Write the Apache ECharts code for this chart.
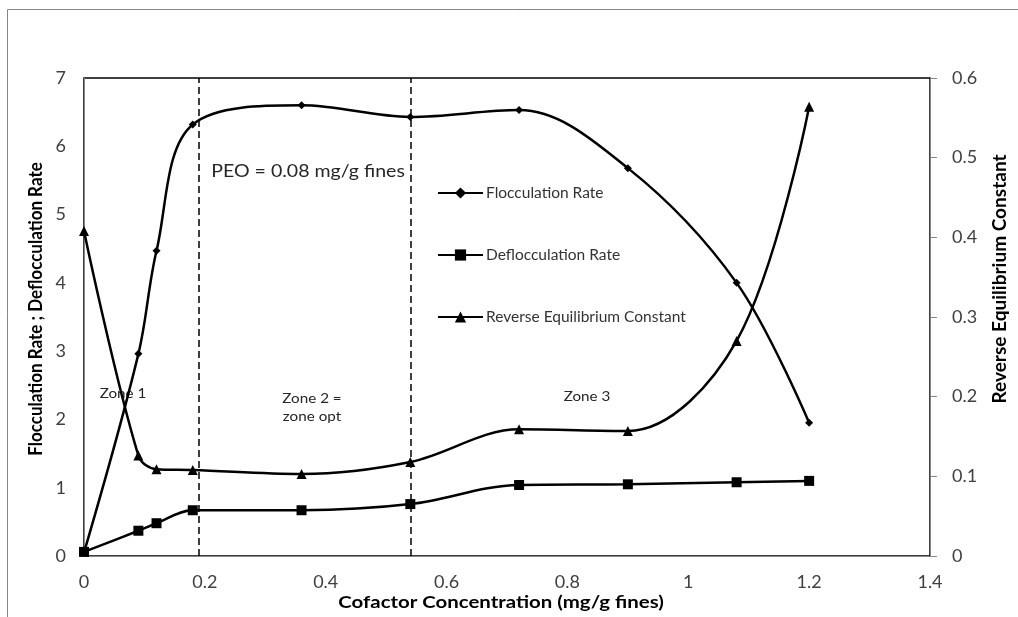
<!DOCTYPE html>
<html>
<head>
<meta charset="utf-8">
<script src="https://cdn.jsdelivr.net/npm/echarts@6/dist/echarts.min.js"></script>
<style>html,body{margin:0;padding:0;background:#fff}#c{width:1018px;height:617px}</style>
</head>
<body>
<div id="c"></div>
<script>
const concentration = [0, 0.09, 0.12, 0.18, 0.36, 0.54, 0.72, 0.9, 1.08, 1.2];
const flocculationRate = [0.05, 2.96, 4.47, 6.32, 6.60, 6.43, 6.53, 5.68, 4.0, 1.95];
const deflocculationRate = [0.06, 0.37, 0.48, 0.67, 0.67, 0.76, 1.04, 1.05, 1.08, 1.10];
const reverseEqConstant = [0.408, 0.126, 0.109, 0.108, 0.103, 0.118, 0.159, 0.157, 0.27, 0.564];
const zoneBoundaries = [0.189, 0.543];
const leftTicks = [0, 7, 1];
const rightTicks = [0, 0.6, 0.1];
const xTicks = [0, 1.4, 0.2];
const seriesNames = ['Flocculation Rate', 'Deflocculation Rate', 'Reverse Equilibrium Constant'];
const xTitle = 'Cofactor Concentration (mg/g fines)';
const leftTitle = 'Flocculation Rate ; Deflocculation Rate';
const rightTitle = 'Reverse Equilibrium Constant';
const peoNote = 'PEO = 0.08 mg/g fines';
const zoneLabels = ['Zone 1', 'Zone 2 =\nzone opt', 'Zone 3'];

const FONT = 'Lato, "Open Sans", sans-serif';
const pair = (xs, ys) => xs.map((x, i) => [x, ys[i]]);

const chart = echarts.init(document.getElementById('c'), null, {renderer: 'canvas'});
const lineStyle = {color: '#000', width: 2.5};
const note = (text, x, y, size, sx, extra) => Object.assign({
  type: 'text', x: x, y: y, scaleX: sx, scaleY: 1, silent: true,
  style: {text: text, font: size + 'px ' + FONT, fill: '#262626', align: 'center', verticalAlign: 'middle'}
}, extra || {});

chart.setOption({
  animation: false,
  backgroundColor: '#fff',
  textStyle: {fontFamily: FONT},
  grid: {left: 84, right: 88, top: 78, bottom: 61, show: true, borderColor: '#000', borderWidth: 1.5, backgroundColor: 'transparent'},
  legend: {
    orient: 'vertical', left: 437, top: 185, padding: 0, itemGap: 46, itemWidth: 45, itemHeight: 14,
    data: seriesNames,
    textStyle: {fontFamily: FONT, fontSize: 15.5, color: '#333', padding: [0, 0, 0, -2]}
  },
  xAxis: {
    type: 'value', min: xTicks[0], max: xTicks[1], interval: xTicks[2],
    axisLine: {lineStyle: {color: '#868686', width: 1}},
    axisTick: {show: false},
    splitLine: {show: false},
    axisLabel: {fontSize: 18, color: '#404040', margin: 17, fontFamily: FONT}
  },
  yAxis: [{
    type: 'value', min: leftTicks[0], max: leftTicks[1], interval: leftTicks[2],
    axisLine: {show: true, lineStyle: {color: '#868686', width: 1}},
    axisTick: {show: false},
    splitLine: {show: false},
    axisLabel: {fontSize: 18, color: '#404040', margin: 18, fontFamily: FONT}
  }, {
    type: 'value', position: 'right', min: rightTicks[0], max: rightTicks[1], interval: rightTicks[2],
    axisLine: {show: true, lineStyle: {color: '#868686', width: 1}},
    axisTick: {show: true, inside: false, length: 7, lineStyle: {color: '#868686'}},
    splitLine: {show: false},
    axisLabel: {fontSize: 18, color: '#404040', margin: 22, fontFamily: FONT}
  }],
  series: [{
    name: seriesNames[0], type: 'line', yAxisIndex: 0, smooth: 0.35,
    data: pair(concentration, flocculationRate),
    symbol: 'diamond', symbolSize: 8, itemStyle: {color: '#000'}, lineStyle: lineStyle,
    markLine: {
      silent: true, symbol: ['none', 'none'], label: {show: false},
      lineStyle: {color: '#000', type: [7, 4], width: 1.5},
      data: zoneBoundaries.map(v => ({xAxis: v}))
    }
  }, {
    name: seriesNames[1], type: 'line', yAxisIndex: 0, smooth: 0.35,
    data: pair(concentration, deflocculationRate),
    symbol: 'rect', symbolSize: 10, itemStyle: {color: '#000'}, lineStyle: lineStyle
  }, {
    name: seriesNames[2], type: 'line', yAxisIndex: 1, smooth: 0.35,
    data: pair(concentration, reverseEqConstant),
    symbol: 'triangle', symbolSize: 10, itemStyle: {color: '#000'}, lineStyle: lineStyle
  }],
  graphic: [
    {type: 'rect', shape: {x: 7.5, y: 9.5, width: 1100, height: 700}, style: {fill: 'none', stroke: '#868686', lineWidth: 1}, silent: true, z: -1},
    {type: 'text', x: 501, y: 603, scaleX: 1.2, silent: true,
      style: {text: xTitle, font: 'bold 17px ' + FONT, fill: '#000', align: 'center', verticalAlign: 'middle'}},
    {type: 'text', x: 36, y: 309, rotation: Math.PI / 2, scaleX: 1.0, scaleY: 1.15, silent: true,
      style: {text: leftTitle, font: 'bold 17px ' + FONT, fill: '#000', align: 'center', verticalAlign: 'middle'}},
    {type: 'text', x: 1000, y: 279, rotation: Math.PI / 2, scaleX: 1.12, scaleY: 1.15, silent: true,
      style: {text: rightTitle, font: 'bold 17px ' + FONT, fill: '#000', align: 'center', verticalAlign: 'middle'}},
    note(peoNote, 308, 172, 17, 1.15),
    note(zoneLabels[0], 123, 394, 13, 1.17),
    note(zoneLabels[1], 312, 408, 13, 1.17, {style: {text: zoneLabels[1], font: '13px ' + FONT, fill: '#262626', align: 'center', verticalAlign: 'middle', lineHeight: 18}}),
    note(zoneLabels[2], 587, 397, 13, 1.17)
  ]
});
</script>
</body>
</html>
